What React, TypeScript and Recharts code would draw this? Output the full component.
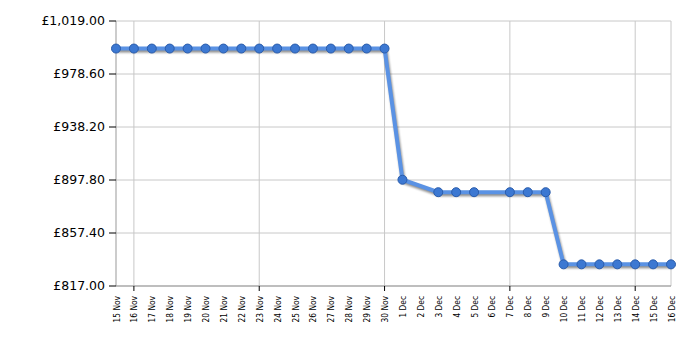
import React from 'react';
import { LineChart, Line, XAxis, YAxis, CartesianGrid, ReferenceLine } from 'recharts';

const dates = [
  '15 Nov', '16 Nov', '17 Nov', '18 Nov', '19 Nov', '20 Nov', '21 Nov', '22 Nov',
  '23 Nov', '24 Nov', '25 Nov', '26 Nov', '27 Nov', '28 Nov', '29 Nov', '30 Nov',
  '1 Dec', '2 Dec', '3 Dec', '4 Dec', '5 Dec', '6 Dec', '7 Dec', '8 Dec',
  '9 Dec', '10 Dec', '11 Dec', '12 Dec', '13 Dec', '14 Dec', '15 Dec', '16 Dec',
];

const prices: (number | null)[] = [
  998, 998, 998, 998, 998, 998, 998, 998,
  998, 998, 998, 998, 998, 998, 998, 998,
  898, null, 888.5, 888.5, 888.5, null, 888.5, 888.5,
  888.5, 833.5, 833.5, 833.5, 833.5, 833.5, 833.5, 833.5,
];

const yTicks = [817, 857.4, 897.8, 938.2, 978.6, 1019];
const majorDates = ['16 Nov', '23 Nov', '30 Nov', '7 Dec', '14 Dec', '16 Dec'];

const data = dates.map((d, i) => ({ i, date: d, price: prices[i] }));
const xTicks = dates.map((_, i) => i);
const gridX = majorDates.map((d) => dates.indexOf(d));

const fmt = (v: number) =>
  '£' + v.toLocaleString('en-GB', { minimumFractionDigits: 2, maximumFractionDigits: 2 });

const XTick = (props: any) => {
  const { x, y, payload } = props;
  const label = dates[payload.value];
  const major = majorDates.includes(label) && label !== '16 Dec';
  return (
    <g>
      {major && <line x1={x} x2={x} y1={y - 8} y2={y - 3} stroke="#000" strokeWidth={1} />}
      <text
        transform={`translate(${x + 3.5},${y + 2}) rotate(-90)`}
        textAnchor="end"
        fontSize={8.3}
        fontFamily="'DejaVu Sans Condensed', 'DejaVu Sans', sans-serif"
        fill="#000"
      >
        {label}
      </text>
    </g>
  );
};

export default function App() {
  return (
    <div style={{ width: 692, height: 342 }}>
      <style>{`.price-line .recharts-curve, .price-line .recharts-dot { filter: drop-shadow(1px 2px 1px rgba(0,0,0,0.45)); }`}</style>
      <LineChart
        width={692}
        height={342}
        data={data}
        margin={{ top: 13, right: 29, left: 8, bottom: 8 }}
      >
        <CartesianGrid vertical={false} stroke="#c8c8c8" />
        {gridX.map((gx) => (
          <ReferenceLine key={gx} x={gx} stroke="#c8c8c8" strokeWidth={1} />
        ))}
        <XAxis
          dataKey="i"
          type="number"
          domain={[0, 31]}
          ticks={xTicks}
          interval={0}
          height={56}
          axisLine={{ stroke: '#999' }}
          tickLine={false}
          tick={<XTick />}
        />
        <YAxis
          domain={[817, 1019]}
          ticks={yTicks}
          interval={0}
          width={100}
          tickFormatter={fmt}
          axisLine={{ stroke: '#999' }}
          tickLine={{ stroke: '#000' }}
          tickSize={7}
          tickMargin={4}
          tick={{ fontSize: 12.5, fill: '#000', fontFamily: "'DejaVu Sans', sans-serif" }}
        />
        <Line
          className="price-line"
          type="linear"
          dataKey="price"
          stroke="#5a92e4"
          strokeWidth={4}
          connectNulls
          dot={{ r: 4.5, fill: '#3c78d2', stroke: '#2a5cab', strokeWidth: 1 }}
          isAnimationActive={false}
        />
      </LineChart>
    </div>
  );
}
